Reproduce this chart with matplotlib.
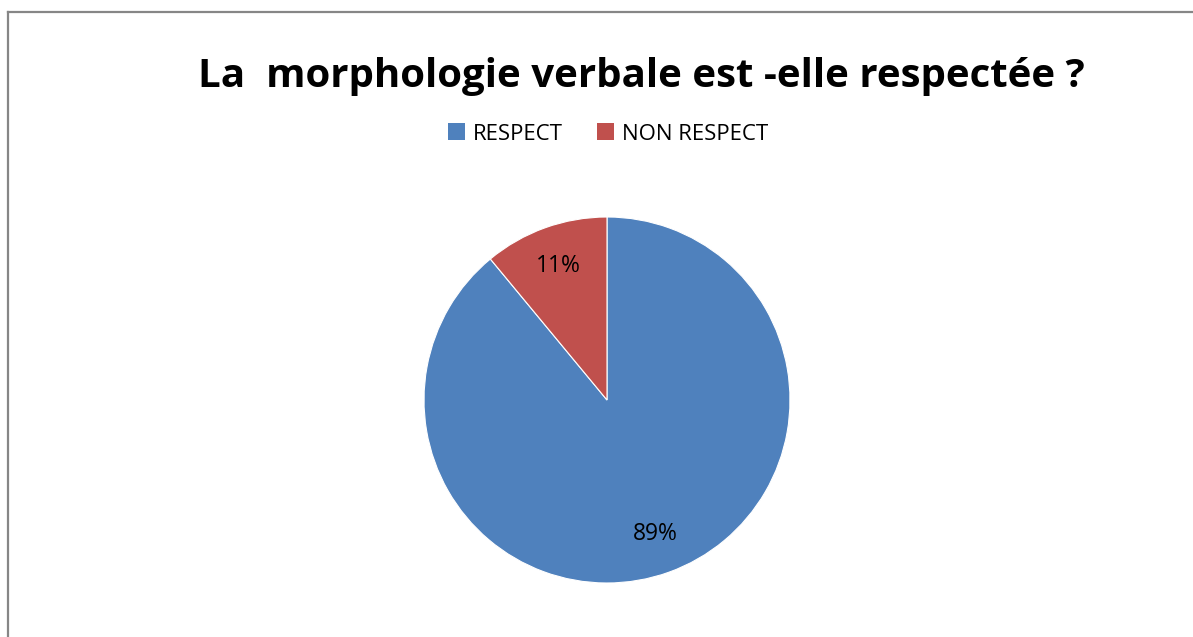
import matplotlib.pyplot as plt
from matplotlib.patches import Patch
from matplotlib.lines import Line2D

# donnees
labels = ["RESPECT", "NON RESPECT"]
values = [89, 11]
colors = ["#4F81BD", "#C0504D"]
title = "La  morphologie verbale est -elle respectée ?"

W, H = 1193, 637

plt.rcParams['font.family'] = ['Open Sans', 'DejaVu Sans']
fig = plt.figure(figsize=(W / 100, H / 100), dpi=100)

# cadre gris (haut et gauche)
fig.add_artist(Line2D([8 / W, 8 / W], [0, 1 - 12 / H], color="#868686", lw=1.6))
fig.add_artist(Line2D([8 / W, 1], [1 - 12 / H, 1 - 12 / H], color="#868686", lw=1.6))

# camembert
r = 183
cx, cy = 607, 400
ax = fig.add_axes([(cx - r) / W, 1 - (cy + r) / H, 2 * r / W, 2 * r / H])
wedges, texts, autotexts = ax.pie(values, colors=colors, startangle=90, counterclock=False,
                                  autopct="%d%%", pctdistance=0.78, radius=1,
                                  wedgeprops=dict(edgecolor="white", linewidth=0.8),
                                  textprops=dict(fontsize=16.5, color="black"))
ax.set_xlim(-1, 1)
ax.set_ylim(-1, 1)
ax.set_aspect("equal")

# titre
fig.text(641 / W, 1 - 77 / H, title, ha="center", va="center",
         fontsize=29, fontweight="bold")

# legende
handles = [Patch(facecolor=c, edgecolor="none") for c in colors]
fig.legend(handles, labels, loc="center", bbox_to_anchor=(608 / W, 1 - 134 / H),
           ncol=2, frameon=False, fontsize=16, handlelength=0.8, handleheight=0.8,
           handletextpad=0.35, columnspacing=1.5)

fig.savefig("out.png", dpi=100)
